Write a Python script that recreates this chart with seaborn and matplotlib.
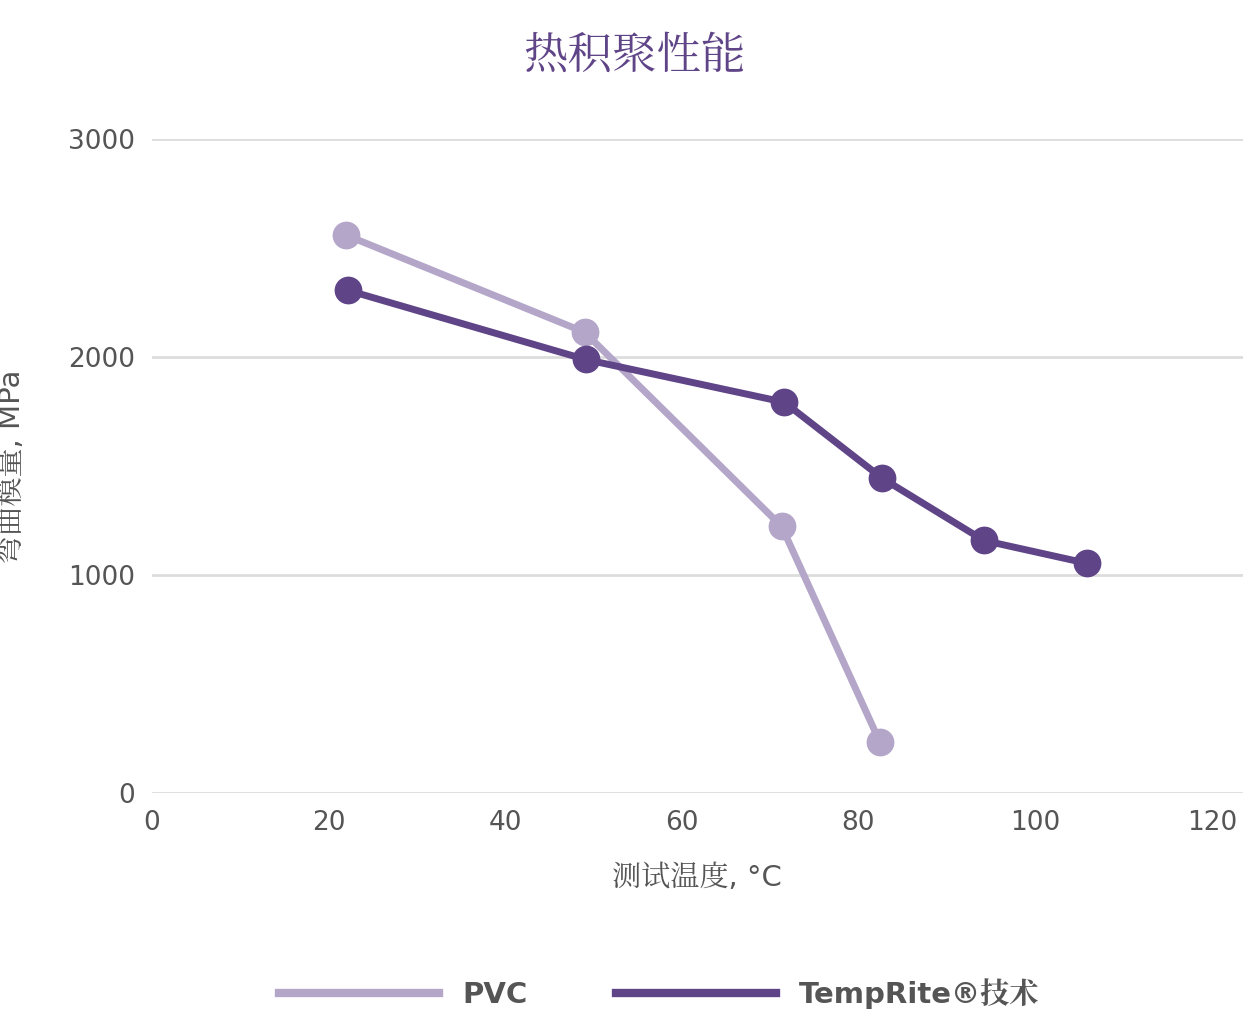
import matplotlib
matplotlib.use("Agg")
import matplotlib.pyplot as plt
from matplotlib import font_manager as fm
import seaborn as sns
import pandas as pd

pvc_temp = [22, 49, 71.3, 82.4]
pvc_mod = [2560, 2115, 1225, 238]
tr_temp = [22.2, 49.1, 71.6, 82.7, 94.2, 105.9]
tr_mod = [2307, 1990, 1794, 1445, 1160, 1055]
x_ticks = [0, 20, 40, 60, 80, 100, 120]
y_ticks = [0, 1000, 2000, 3000]

cjk = None
for f in fm.fontManager.ttflist:
    if "CJK" in f.name and ("SC" in f.name or cjk is None):
        cjk = f.name
for f in fm.findSystemFonts():
    if "CJK" in f and cjk is None:
        fm.fontManager.addfont(f)
        cjk = fm.FontProperties(fname=f).get_name()
plt.rcParams["font.family"] = ["DejaVu Sans", cjk] if cjk else ["DejaVu Sans"]

df = pd.concat([
    pd.DataFrame({"t": pvc_temp, "m": pvc_mod, "s": "PVC"}),
    pd.DataFrame({"t": tr_temp, "m": tr_mod, "s": "TempRite®技术"}),
])
pal = {"PVC": "#b4a6c9", "TempRite®技术": "#5f4487"}

fig = plt.figure(figsize=(12.44, 10.16), dpi=100)
ax = fig.add_axes([0.122, 0.219, 0.877, 0.644])
sns.lineplot(data=df, x="t", y="m", hue="s", palette=pal, marker="o", markersize=20,
             markeredgewidth=0, linewidth=5, ax=ax, legend=False, sort=False)
ax.set_xlim(0, 123.5)
ax.set_ylim(0, 3000)
ax.set_xticks(x_ticks)
ax.set_yticks(y_ticks)
ax.tick_params(length=0, labelsize=19, colors="#555555", pad=12)
ax.grid(axis="y", color="#dddddd", linewidth=2)
ax.grid(axis="x", visible=False)
for s in ax.spines.values():
    s.set_visible(False)
ax.set_axisbelow(True)
ax.set_xlabel("测试温度, °C", fontsize=21, color="#555555", labelpad=20)
ax.set_ylabel("弯曲模量, MPa", fontsize=21, color="#555555", labelpad=30)
fig.text(0.51, 0.945, "热积聚性能", ha="center", va="center", fontsize=32, color="#5f4487")
handles = [plt.Line2D([], [], color=pal[k], lw=6) for k in pal]
fig.legend(handles, list(pal), loc="center", bbox_to_anchor=(0.53, 0.022), ncol=2, frameon=False,
           prop={"size": 21, "weight": "bold"}, labelcolor="#555555", handlelength=5.5,
           columnspacing=3)
fig.savefig("out.png", dpi=100)
